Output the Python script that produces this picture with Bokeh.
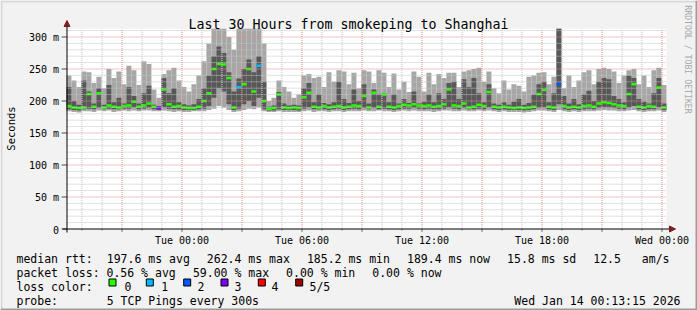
import re
from bokeh.plotting import figure
from bokeh.models import Range1d, Label, Arrow, NormalHead, BoxAnnotation, ColumnDataSource
from bokeh.embed import file_html
from bokeh.resources import INLINE

# ---------------- data ----------------
# time axis in hours relative to Tue 00:00; window Mon 18:13:15 .. Wed 00:13:15
t_start = -(5 + 46 / 60 + 45 / 3600)
t_end = t_start + 30
bin_hours = 0.25

median_ms = [192, 190, 189, 190, 211, 191, 212, 190, 193, 191,
             190, 192, 193, 199, 191, 193, 196, 191, 189, 218,
             195, 191, 192, 190, 189, 189, 191, 200, 212, 250,
             258, 257, 236, 190, 222, 226, 250, 215, 255, 200,
             188, 189, 210, 190, 189, 190, 189, 206, 213, 191,
             190, 192, 190, 191, 192, 190, 191, 193, 192, 208,
             190, 213, 191, 210, 191, 190, 192, 194, 193, 195,
             193, 192, 193, 191, 192, 195, 218, 193, 192, 196,
             190, 191, 194, 192, 214, 191, 190, 191, 190, 189,
             190, 189, 190, 191, 211, 217, 191, 190, 226, 192,
             190, 191, 190, 192, 193, 191, 196, 198, 197, 195,
             193, 192, 211, 226, 191, 190, 192, 191, 221, 190]

min_ms = [184, 183, 182, 184, 184, 183, 185, 184, 185, 183,
          184, 185, 184, 185, 184, 185, 185, 184, 184, 185,
          184, 183, 184, 183, 183, 184, 184, 184, 186, 188,
          192, 190, 186, 183, 184, 186, 188, 187, 190, 184,
          183, 183, 184, 183, 183, 183, 183, 184, 185, 183,
          184, 184, 183, 184, 184, 183, 184, 184, 184, 185,
          184, 184, 185, 184, 184, 183, 184, 185, 184, 185,
          184, 184, 184, 183, 184, 185, 185, 184, 184, 185,
          184, 184, 185, 184, 185, 184, 183, 184, 183, 183,
          183, 182, 183, 184, 185, 185, 184, 183, 186, 184,
          183, 184, 183, 184, 184, 184, 185, 186, 185, 185,
          184, 184, 185, 186, 184, 183, 184, 184, 185, 183]

q1_ms = [187, 186, 185, 187, 188, 187, 189, 187, 188, 187,
         187, 188, 188, 190, 187, 188, 189, 187, 186, 190,
         188, 187, 187, 186, 186, 186, 187, 188, 192, 205,
         220, 215, 195, 186, 188, 195, 200, 192, 205, 187,
         185, 185, 187, 186, 186, 186, 185, 188, 190, 187,
         187, 187, 186, 187, 188, 186, 187, 188, 187, 189,
         187, 189, 187, 188, 187, 186, 187, 188, 188, 189,
         188, 187, 188, 187, 187, 188, 190, 188, 187, 189,
         187, 187, 188, 187, 190, 187, 186, 187, 186, 186,
         186, 185, 186, 187, 189, 190, 187, 186, 195, 187,
         186, 187, 186, 187, 188, 187, 189, 190, 190, 189,
         188, 187, 190, 192, 187, 186, 187, 187, 190, 186]

q3_ms = [222, 200, 194, 232, 215, 196, 220, 194, 225, 198,
         205, 196, 222, 208, 196, 212, 224, 194, 192, 236,
         212, 220, 198, 195, 193, 195, 203, 220, 240, 270,
         285, 275, 245, 215, 235, 250, 265, 245, 270, 230,
         191, 193, 214, 196, 193, 194, 193, 220, 228, 198,
         210, 197, 195, 198, 230, 203, 197, 218, 200, 226,
         196, 218, 210, 212, 198, 210, 196, 203, 197, 215,
         196, 199, 210, 198, 212, 203, 228, 230, 203, 234,
         222, 236, 212, 198, 226, 196, 194, 198, 194, 199,
         203, 194, 197, 210, 226, 230, 198, 212, 320, 208,
         196, 203, 195, 210, 216, 200, 230, 236, 234, 208,
         203, 198, 240, 236, 203, 199, 196, 212, 236, 196]

max_ms = [240, 232, 222, 246, 245, 228, 238, 220, 250, 236,
          246, 226, 255, 248, 225, 262, 258, 218, 205, 242,
          248, 252, 232, 222, 215, 226, 240, 262, 290, 320,
          320, 320, 300, 280, 320, 320, 320, 320, 320, 290,
          200, 205, 232, 222, 215, 205, 210, 240, 242, 236,
          238, 222, 245, 230, 248, 246, 226, 244, 220, 248,
          246, 228, 248, 244, 222, 243, 218, 230, 214, 246,
          238, 215, 244, 226, 242, 236, 244, 244, 222, 246,
          248, 250, 252, 230, 246, 220, 212, 232, 218, 226,
          224, 215, 238, 240, 244, 245, 226, 238, 320, 220,
          240, 222, 232, 245, 248, 226, 250, 252, 250, 246,
          228, 240, 248, 250, 226, 240, 222, 248, 252, 225]

loss_count = [0] * 120
loss_count[18] = 3
loss_count[34] = 1
loss_count[38] = 1
loss_count[98] = 2

loss_names = ["0", "1", "2", "3", "4", "5/5"]
loss_colors = ["#26ff00", "#00b8ff", "#0059ff", "#7e00ff", "#ff0000", "#a10000"]

x_major = [-3, 0, 3, 6, 9, 12, 15, 18, 21, 24]
x_minor = [h for h in range(-5, 25) if h % 3 != 0]
x_labels = {0: "Tue 00:00", 6: "Tue 06:00", 12: "Tue 12:00",
            18: "Tue 18:00", 24: "Wed 00:00"}
y_major = [0, 50, 100, 150, 200, 250, 300]
y_minor = [v for v in range(10, 320, 10) if v % 50 != 0]
y_labels = {0: "0", 50: "50 m", 100: "100 m", 150: "150 m",
            200: "200 m", 250: "250 m", 300: "300 m"}
y_title = "Seconds"

title_text = "Last 30 Hours from smokeping to Shanghai"
legend_rows = [
    ["median rtt:  197.6 ms avg", "262.4 ms max", "185.2 ms min",
     "189.4 ms now", "15.8 ms sd", "12.5   am/s"],
    ["packet loss: 0.56 % avg", "59.00 % max", "0.00 % min", "0.00 % now"],
    ["loss color:"],
    ["probe:       5 TCP Pings every 300s"],
]
stamp_text = "Wed Jan 14 00:13:15 2026"

# ---------------- layout helpers ----------------
W, H = 697, 310
X0 = 181.5 - (0 - t_start) * 20.0   # px of the plot-area left edge
Y0 = 228.5                          # px of 0 ms
PX_PER_H = 20.0
PX_PER_MS = 0.64
Y_MAX = (Y0 - 28.3) / PX_PER_MS
CHAR_W = 6.94        # legend monospace advance (px)
ITEM_GAP = 16.8      # rrdtool legend item spacing (px)
legend_baselines = [258.3, 272.3, 286.3, 300.3]
legend_box_x = [112, 149.3, 186.7, 224, 261.3, 298.7]
legend_num_x = [124, 160.7, 197, 234, 271, 309]


def hx(px):
    return t_start + (px - X0) / PX_PER_H


def vy(py):
    return (Y0 - py) / PX_PER_MS


MONO = "DejaVu Sans Mono"

left = [t_start + i * bin_hours for i in range(len(median_ms))]
right = [l + bin_hours for l in left]
src = ColumnDataSource(dict(
    left=left, right=right, med=median_ms,
    lo=[min(v, Y_MAX) for v in min_ms], q1=[min(v, Y_MAX) for v in q1_ms],
    q3=[min(v, Y_MAX) for v in q3_ms], hi=[min(v, Y_MAX) for v in max_ms],
    color=[loss_colors[c] for c in loss_count]))

p = figure(width=W, height=H, title=None,
           x_range=Range1d(hx(0), hx(W)), y_range=Range1d(vy(H), vy(0)),
           x_axis_location=None, y_axis_location=None,
           output_backend="svg", toolbar_location=None,
           min_border=0, min_border_left=0, min_border_right=0,
           min_border_top=0, min_border_bottom=0,
           background_fill_color="#f2f2f2", border_fill_color="#f2f2f2",
           outline_line_color=None)
p.grid.visible = False

# canvas shading (rrdtool 3D frame)
p.add_layout(BoxAnnotation(left=hx(0), right=hx(W), top=vy(0), bottom=vy(2),
                           fill_color="#d8d8d8", fill_alpha=1, line_color=None))
p.add_layout(BoxAnnotation(left=hx(0), right=hx(2), top=vy(0), bottom=vy(H),
                           fill_color="#d8d8d8", fill_alpha=1, line_color=None))
p.add_layout(BoxAnnotation(left=hx(0), right=hx(W), top=vy(H - 2), bottom=vy(H),
                           fill_color="#9c9c9c", fill_alpha=1, line_color=None))
p.add_layout(BoxAnnotation(left=hx(W - 2), right=hx(W), top=vy(0), bottom=vy(H),
                           fill_color="#9c9c9c", fill_alpha=1, line_color=None))

# plot area (white canvas)
p.quad(left=[t_start], right=[t_end], bottom=[0], top=[Y_MAX],
       fill_color="white", line_color=None)

# smoke
p.quad(left="left", right="right", bottom="lo", top="hi", source=src,
       fill_color="#a6a6a6", line_color=None)
p.quad(left="left", right="right", bottom="q1", top="q3", source=src,
       fill_color="#585858", line_color=None)
# median coloured by loss
p.segment(x0="left", x1="right", y0="med", y1="med", source=src,
          line_color="color", line_width=2.5)

# grid lines (rrdtool draws them over the data)
p.segment(x0=x_minor, x1=x_minor, y0=[0] * len(x_minor), y1=[Y_MAX] * len(x_minor),
          line_color="#c4c4c4", line_width=1, line_dash="1 1")
p.segment(x0=[t_start] * len(y_minor), x1=[t_end] * len(y_minor), y0=y_minor, y1=y_minor,
          line_color="#c4c4c4", line_width=1, line_dash="1 1")
p.segment(x0=x_major, x1=x_major, y0=[0] * len(x_major), y1=[Y_MAX] * len(x_major),
          line_color="#e09090", line_width=1, line_dash="1 1")
p.segment(x0=[t_start] * len(y_major[1:]), x1=[t_end] * len(y_major[1:]),
          y0=y_major[1:], y1=y_major[1:],
          line_color="#e09090", line_width=1, line_dash="1 1")

# tick marks
p.segment(x0=[hx(61)] * len(y_major), x1=[hx(66.5)] * len(y_major),
          y0=y_major, y1=y_major, line_color="#555555", line_width=1)
p.segment(x0=x_major, x1=x_major, y0=[0] * len(x_major), y1=[vy(Y0 + 3)] * len(x_major),
          line_color="#777777", line_width=1)
p.segment(x0=x_minor, x1=x_minor, y0=[0] * len(x_minor), y1=[vy(Y0 + 2)] * len(x_minor),
          line_color="#aaaaaa", line_width=1)

# axis lines with arrows
head_col = "#7f1f1f"
p.add_layout(Arrow(x_start=hx(66.5), y_start=vy(232), x_end=hx(66.5), y_end=vy(20),
                   line_color="black", line_width=1,
                   end=NormalHead(size=6, fill_color=head_col, line_color=head_col)))
p.add_layout(Arrow(x_start=hx(62), y_start=0, x_end=hx(675), y_end=0,
                   line_color="black", line_width=1,
                   end=NormalHead(size=6, fill_color=head_col, line_color=head_col)))

# tick labels
for t in x_major:
    if t in x_labels:
        p.add_layout(Label(x=t, y=vy(239.5), text=x_labels[t], text_font=MONO,
                           text_font_size="10px", text_align="center",
                           text_baseline="alphabetic", text_color="black"))
for v in y_major:
    p.add_layout(Label(x=hx(58.5), y=v - 0.8 / PX_PER_MS, text=y_labels[v], text_font=MONO,
                       text_font_size="10px", text_align="right",
                       text_baseline="middle", text_color="black"))

p.add_layout(Label(x=hx(10), y=vy(128), text=y_title, text_font=MONO,
                   text_font_size="10.5px", angle=1.5707963, text_align="center",
                   text_baseline="middle", text_color="black"))

# title
p.add_layout(Label(x=hx(348), y=vy(23.5), text=title_text, text_font=MONO,
                   text_font_size="13.3px", text_align="center",
                   text_baseline="alphabetic", text_color="black"))

# side watermark
p.add_layout(Label(x=hx(687), y=vy(59), text="RRDTOOL / TOBI OETIKER",
                   text_font=MONO, text_font_size="8.2px", angle=-1.5707963,
                   text_align="center", text_baseline="middle",
                   text_color="#a8a8a8"))


def add_text(px, base, txt):
    # SVG collapses runs of spaces, so each chunk is placed on the monospace grid
    for m in re.finditer(r"\S+(?: \S+)*", txt):
        p.add_layout(Label(x=hx(px + m.start() * CHAR_W), y=vy(base), text=m.group(),
                           text_font=MONO, text_font_size="11.5px", text_align="left",
                           text_baseline="alphabetic", text_color="black"))


# legend text (rrdtool flows items left to right with a fixed gap)
for row, base in zip(legend_rows, legend_baselines):
    px = 16.0
    for txt in row:
        add_text(px, base, txt)
        px += len(txt) * CHAR_W + ITEM_GAP

p.add_layout(Label(x=hx(680), y=vy(legend_baselines[3]), text=stamp_text, text_font=MONO,
                   text_font_size="11.5px", text_align="right",
                   text_baseline="alphabetic", text_color="black"))

for bx, nx, name, col in zip(legend_box_x, legend_num_x, loss_names, loss_colors):
    p.add_layout(BoxAnnotation(left=hx(bx - 3.5), right=hx(bx + 3.5),
                               bottom=vy(285.5), top=vy(278.5),
                               fill_color=col, fill_alpha=1.0,
                               line_color="black", line_width=1, line_alpha=1.0))
    p.add_layout(Label(x=hx(nx), y=vy(legend_baselines[2]), text=name, text_font=MONO,
                       text_font_size="11.5px", text_align="left",
                       text_baseline="alphabetic", text_color="black"))

open("out.html", "w").write(file_html(p, INLINE))
